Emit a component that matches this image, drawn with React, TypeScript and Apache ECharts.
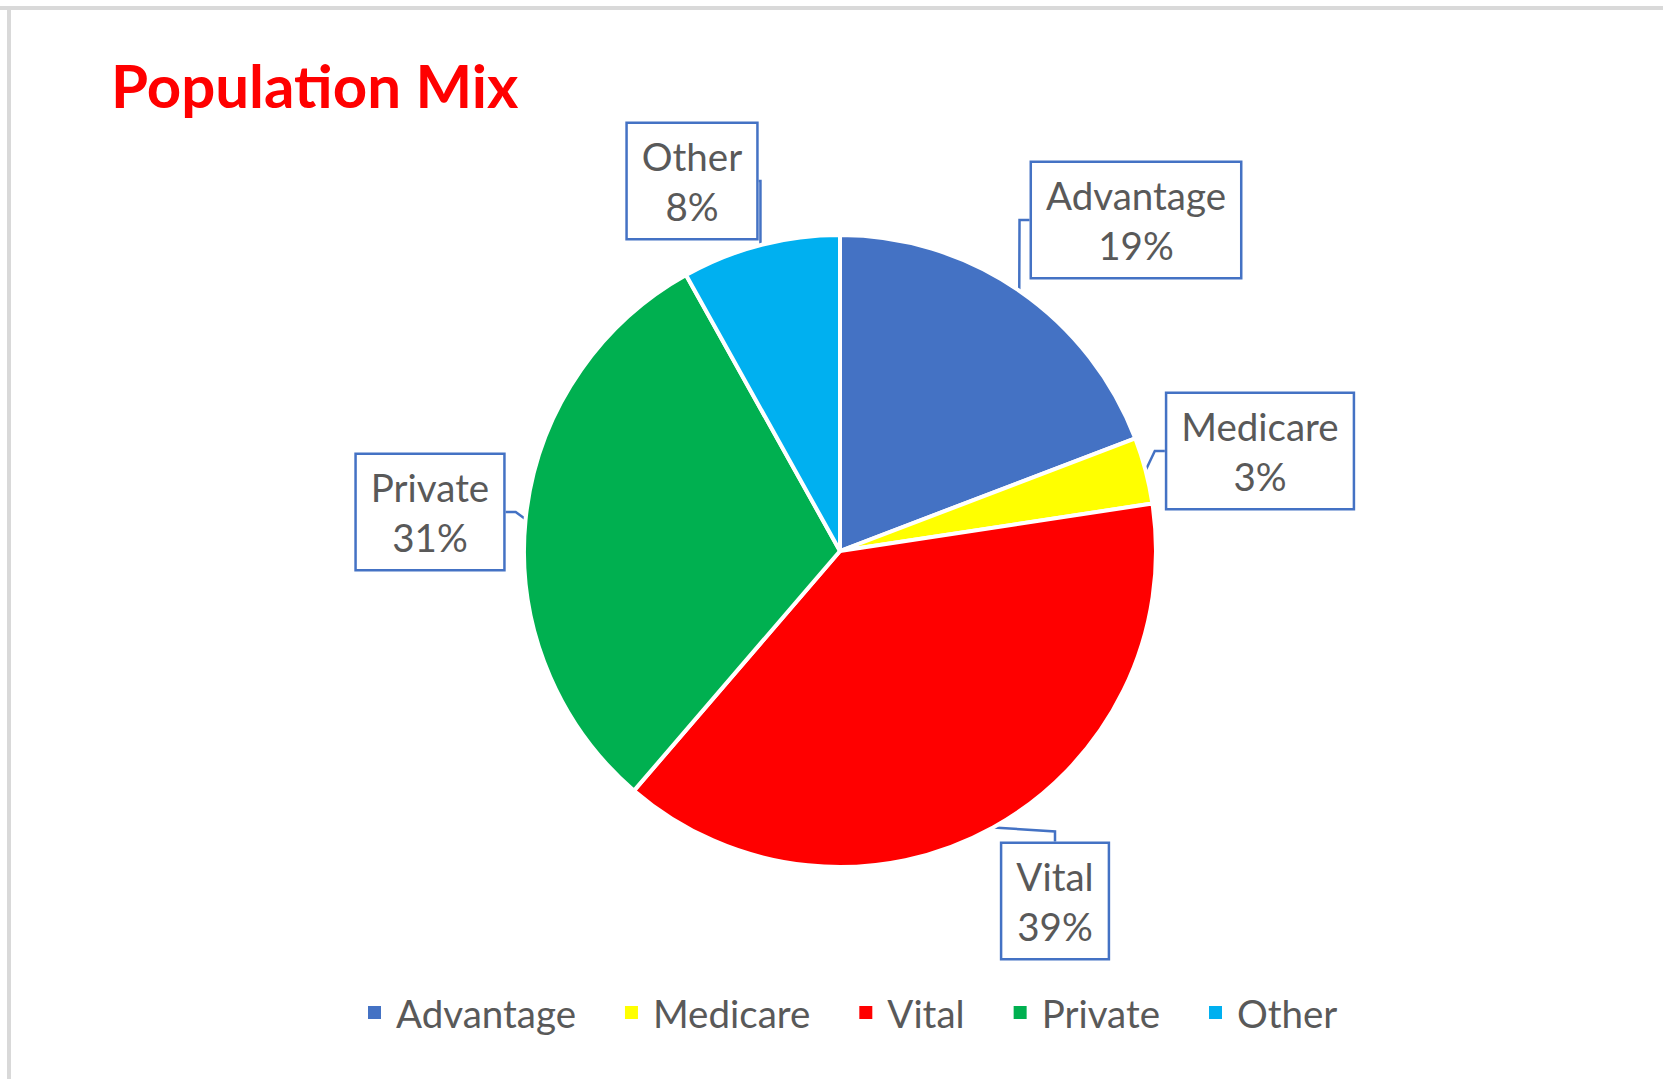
import React, { useEffect, useRef } from "react";
import * as echarts from "echarts";

const categories = ["Advantage", "Medicare", "Vital", "Private", "Other"];
const values = [19.2, 3.4, 38.7, 30.6, 8.1];
const colors = ["#4472C4", "#FFFF00", "#FF0000", "#00B050", "#00B0F0"];
// callout box centres (px)
const labelCenters: [number, number][] = [
  [1136, 220],
  [1260, 451],
  [1055, 901],
  [430, 512],
  [692, 181],
];

const FONT = "Lato";

export default function App() {
  const ref = useRef<HTMLDivElement>(null);
  useEffect(() => {
    if (!ref.current) return;
    const chart = echarts.init(ref.current, undefined, { renderer: "svg" });
    chart.setOption({
      animation: false,
      backgroundColor: "#ffffff",
      title: {
        text: "Population Mix",
        left: 111,
        top: 55,
        padding: 0,
        textStyle: {
          fontFamily: FONT,
          fontWeight: "bold",
          fontSize: 60,
          color: "#FF0000",
        },
      },
      graphic: [
        { type: "rect", shape: { x: 0, y: 6, width: 1663, height: 4 }, style: { fill: "#D9D9D9" }, silent: true },
        { type: "rect", shape: { x: 7, y: 6, width: 4, height: 1079 }, style: { fill: "#D9D9D9" }, silent: true },
      ],
      legend: {
        left: 366,
        top: 993,
        itemWidth: 15,
        itemHeight: 15,
        itemGap: 47,
        icon: "rect",
        padding: 0,
        textStyle: {
          fontFamily: FONT,
          fontSize: 38.5,
          color: "#595959",
          padding: [0, 0, 0, 9],
          lineHeight: 38,
        },
        data: categories,
      },
      series: [
        {
          type: "pie",
          center: [840, 551],
          radius: 316,
          startAngle: 90,
          clockwise: true,
          percentPrecision: 0,
          itemStyle: { borderColor: "#ffffff", borderWidth: 4 },
          label: {
            show: true,
            position: "outside",
            formatter: "{b}\n{d}%",
            fontFamily: FONT,
            fontSize: 38.5,
            lineHeight: 50,
            color: "#595959",
            align: "center",
            backgroundColor: "#ffffff",
            borderColor: "#4472C4",
            borderWidth: 2.5,
            padding: [8, 14, 6, 14],
          },
          labelLine: {
            show: true,
            length: 10,
            length2: 10,
            lineStyle: { color: "#4472C4", width: 2.5 },
          },
          labelLayout: (params: any) => {
            const c = labelCenters[params.dataIndex];
            return { x: c[0], y: c[1], align: "center", verticalAlign: "middle" };
          },
          data: categories.map((name, i) => ({
            name,
            value: values[i],
            itemStyle: { color: colors[i] },
          })),
        },
      ],
    });
    return () => chart.dispose();
  }, []);
  return (
    <div
      ref={ref}
      style={{ position: "fixed", left: 0, top: 0, width: 1663, height: 1079 }}
    />
  );
}
